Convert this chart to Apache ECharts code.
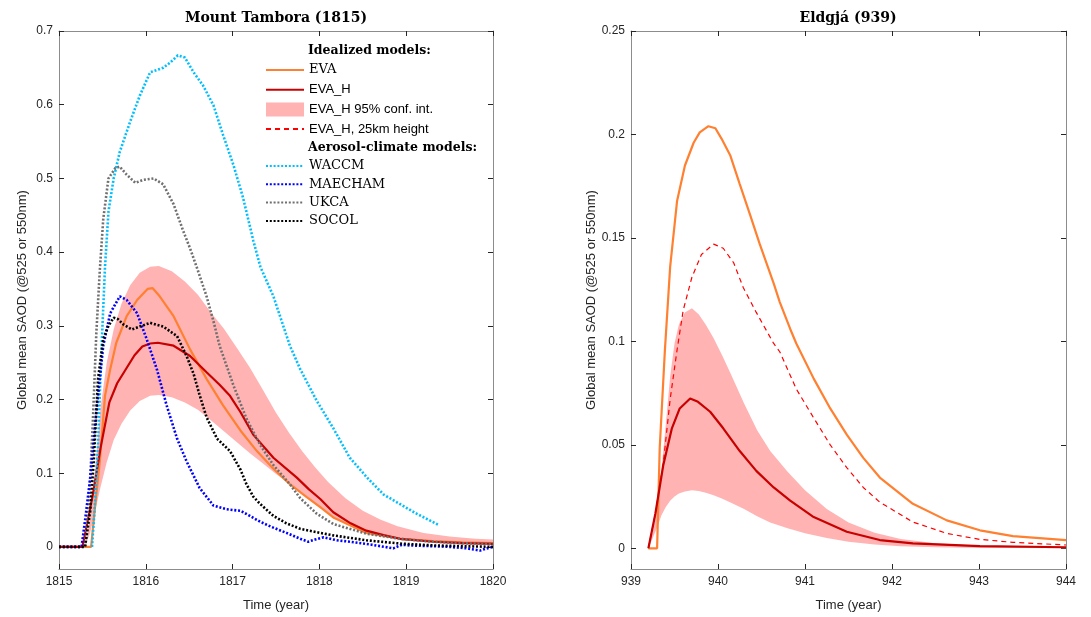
<!DOCTYPE html>
<html>
<head>
  <meta charset="utf-8">
  <title>SAOD Tambora / Eldgja</title>
  <script src="https://cdn.jsdelivr.net/npm/echarts@6/dist/echarts.min.js"></script>
  <style>
    html, body { margin: 0; padding: 0; background: #fff; }
    #chart { width: 1091px; height: 617px; }
  </style>
</head>
<body>
<div id="chart"></div>
<script>
// ---- Mount Tambora (1815) ----
var tambYTicks = [0, 0.1, 0.2, 0.3, 0.4, 0.5, 0.6, 0.7];

var evaT = [1815, 1815.37, 1815.42, 1815.47, 1815.53, 1815.59, 1815.66, 1815.78, 1815.9, 1816.02, 1816.08, 1816.16, 1816.32, 1816.51, 1816.7, 1816.89, 1817.09, 1817.28, 1817.47, 1817.66, 1817.85, 1818.01, 1818.16, 1818.36, 1818.54, 1818.74, 1818.93, 1819.31, 1819.65, 1820];
var evaV = [0, 0, 0.06, 0.116, 0.205, 0.241, 0.277, 0.313, 0.335, 0.35, 0.351, 0.34, 0.313, 0.268, 0.228, 0.192, 0.158, 0.13, 0.106, 0.085, 0.068, 0.054, 0.04, 0.029, 0.019, 0.015, 0.011, 0.008, 0.006, 0.005];

var evahT = [1815, 1815.27, 1815.33, 1815.39, 1815.48, 1815.58, 1815.67, 1815.77, 1815.87, 1815.96, 1816.05, 1816.14, 1816.32, 1816.51, 1816.7, 1816.85, 1816.97, 1817.09, 1817.24, 1817.47, 1817.74, 1817.88, 1818.01, 1818.16, 1818.36, 1818.54, 1818.74, 1818.93, 1819.31, 1819.65, 1820];
var evahV = [0, 0, 0.035, 0.071, 0.135, 0.196, 0.222, 0.241, 0.26, 0.272, 0.276, 0.277, 0.273, 0.259, 0.237, 0.22, 0.205, 0.183, 0.152, 0.121, 0.094, 0.078, 0.065, 0.047, 0.032, 0.022, 0.016, 0.011, 0.007, 0.005, 0.004];

var tambBandT = [1815.3, 1815.36, 1815.42, 1815.48, 1815.55, 1815.63, 1815.72, 1815.82, 1815.93, 1816.05, 1816.15, 1816.3, 1816.45, 1816.6, 1816.75, 1816.9, 1817.05, 1817.2, 1817.35, 1817.5, 1817.65, 1817.8, 1817.95, 1818.1, 1818.3, 1818.5, 1818.7, 1818.9, 1819.2, 1819.5, 1819.8, 1820];
var tambBandLow = [0, 0.02, 0.05, 0.082, 0.115, 0.145, 0.167, 0.185, 0.198, 0.205, 0.206, 0.203, 0.196, 0.186, 0.172, 0.157, 0.142, 0.127, 0.113, 0.099, 0.086, 0.072, 0.058, 0.045, 0.031, 0.021, 0.015, 0.011, 0.008, 0.006, 0.005, 0.004];
var tambBandHigh = [0, 0.04, 0.11, 0.19, 0.25, 0.295, 0.33, 0.355, 0.372, 0.38, 0.381, 0.374, 0.36, 0.342, 0.318, 0.296, 0.27, 0.243, 0.213, 0.182, 0.155, 0.13, 0.108, 0.088, 0.066, 0.049, 0.037, 0.028, 0.019, 0.014, 0.011, 0.01];

var waccmT = [1815.38, 1815.41, 1815.45, 1815.49, 1815.53, 1815.57, 1815.63, 1815.7, 1815.82, 1815.93, 1816.05, 1816.2, 1816.28, 1816.37, 1816.45, 1816.55, 1816.66, 1816.78, 1816.89, 1817.01, 1817.12, 1817.24, 1817.32, 1817.47, 1817.66, 1817.78, 1817.97, 1818.16, 1818.35, 1818.55, 1818.74, 1818.93, 1819.12, 1819.37];
var waccmV = [0, 0.05, 0.14, 0.27, 0.38, 0.455, 0.5, 0.536, 0.577, 0.612, 0.644, 0.65, 0.657, 0.667, 0.664, 0.644, 0.626, 0.599, 0.559, 0.518, 0.474, 0.415, 0.38, 0.34, 0.273, 0.241, 0.198, 0.161, 0.121, 0.094, 0.071, 0.058, 0.045, 0.03];

var maechamT = [1815, 1815.26, 1815.31, 1815.36, 1815.43, 1815.51, 1815.59, 1815.7, 1815.78, 1815.9, 1816.01, 1816.13, 1816.24, 1816.36, 1816.47, 1816.62, 1816.78, 1816.93, 1817.09, 1817.2, 1817.32, 1817.45, 1817.62, 1817.78, 1817.87, 1817.95, 1818.05, 1818.2, 1818.35, 1818.6, 1818.85, 1818.95, 1819.04, 1819.3, 1819.5, 1819.7, 1819.85, 1819.93, 1820];
var maechamV = [0, 0, 0.045, 0.094, 0.183, 0.273, 0.317, 0.34, 0.335, 0.317, 0.282, 0.24, 0.192, 0.147, 0.116, 0.08, 0.056, 0.051, 0.049, 0.042, 0.034, 0.027, 0.019, 0.011, 0.007, 0.01, 0.013, 0.009, 0.007, 0.003, -0.002, 0.003, 0.002, 0.001, 0, -0.002, -0.005, -0.002, 0];

var ukcaT = [1815.3, 1815.35, 1815.39, 1815.43, 1815.47, 1815.51, 1815.57, 1815.65, 1815.7, 1815.78, 1815.88, 1815.97, 1816.09, 1816.2, 1816.32, 1816.43, 1816.51, 1816.6, 1816.7, 1816.78, 1816.85, 1817.01, 1817.16, 1817.32, 1817.47, 1817.66, 1817.78, 1817.97, 1818.16, 1818.54, 1818.93, 1819.31, 1819.65, 1820];
var ukcaV = [0, 0.07, 0.17, 0.29, 0.375, 0.445, 0.5, 0.514, 0.516, 0.505, 0.494, 0.498, 0.5, 0.492, 0.465, 0.429, 0.405, 0.375, 0.34, 0.306, 0.273, 0.219, 0.174, 0.138, 0.111, 0.085, 0.066, 0.045, 0.031, 0.018, 0.011, 0.007, 0.005, 0.004];

var socolT = [1815, 1815.3, 1815.36, 1815.4, 1815.45, 1815.51, 1815.57, 1815.63, 1815.68, 1815.74, 1815.84, 1815.93, 1816.05, 1816.2, 1816.36, 1816.47, 1816.55, 1816.62, 1816.7, 1816.82, 1816.97, 1817.09, 1817.16, 1817.24, 1817.32, 1817.47, 1817.62, 1817.78, 1818.01, 1818.16, 1818.54, 1818.93, 1819.31, 1819.65, 1820];
var socolV = [0, 0, 0.049, 0.116, 0.228, 0.282, 0.3, 0.311, 0.309, 0.302, 0.295, 0.299, 0.304, 0.299, 0.286, 0.259, 0.235, 0.206, 0.176, 0.147, 0.13, 0.105, 0.085, 0.068, 0.058, 0.042, 0.032, 0.0245, 0.019, 0.0156, 0.009, 0.0045, 0.002, 0.001, 0];

// ---- Eldgja (939) ----
var eldYTicks = [0, 0.05, 0.1, 0.15, 0.2, 0.25];

var eldEvaT = [939.2, 939.3, 939.33, 939.39, 939.45, 939.53, 939.62, 939.72, 939.79, 939.89, 939.97, 940.04, 940.14, 940.25, 940.37, 940.48, 940.64, 940.71, 940.83, 940.9, 941.1, 941.29, 941.48, 941.67, 941.86, 942.24, 942.63, 943.01, 943.39, 944];
var eldEvaV = [0, 0, 0.0485, 0.096, 0.136, 0.168, 0.185, 0.196, 0.201, 0.204, 0.203, 0.198, 0.19, 0.176, 0.161, 0.147, 0.128, 0.119, 0.106, 0.099, 0.082, 0.0676, 0.0549, 0.0437, 0.0342, 0.0215, 0.0135, 0.0087, 0.0059, 0.004];

var eld25T = [939.2, 939.28, 939.37, 939.45, 939.53, 939.6, 939.7, 939.81, 939.95, 940.06, 940.18, 940.29, 940.44, 940.64, 940.71, 940.9, 941.1, 941.29, 941.48, 941.67, 941.86, 942.24, 942.63, 943.01, 943.39, 944];
var eld25V = [0, 0.0167, 0.0406, 0.072, 0.096, 0.115, 0.131, 0.142, 0.147, 0.145, 0.138, 0.126, 0.114, 0.099, 0.095, 0.077, 0.063, 0.05, 0.039, 0.0294, 0.0223, 0.0127, 0.0072, 0.0043, 0.0029, 0.0016];

var eldEvahT = [939.2, 939.28, 939.37, 939.47, 939.56, 939.68, 939.77, 939.91, 940.06, 940.25, 940.44, 940.64, 940.83, 941.1, 941.48, 941.86, 942.24, 943.01, 944];
var eldEvahV = [0, 0.0167, 0.04, 0.058, 0.0676, 0.0724, 0.0708, 0.066, 0.058, 0.047, 0.0374, 0.0294, 0.023, 0.0151, 0.008, 0.004, 0.0024, 0.0011, 0.0005];

var eldBandT = [939.2, 939.25, 939.3, 939.35, 939.4, 939.45, 939.5, 939.55, 939.62, 939.7, 939.78, 939.86, 939.95, 940.05, 940.15, 940.3, 940.45, 940.6, 940.8, 941, 941.25, 941.5, 941.8, 942.1, 942.5, 943, 943.5, 944];
var eldBandLow = [0, 0.005, 0.01, 0.016, 0.02, 0.023, 0.025, 0.0265, 0.0275, 0.028, 0.0277, 0.0268, 0.0256, 0.024, 0.022, 0.019, 0.0155, 0.0125, 0.0097, 0.0073, 0.005, 0.0032, 0.0018, 0.001, 0.0005, 0.0002, 0.0001, 0];
var eldBandHigh = [0, 0.008, 0.02, 0.038, 0.06, 0.083, 0.099, 0.108, 0.114, 0.116, 0.113, 0.108, 0.1015, 0.093, 0.084, 0.07, 0.057, 0.047, 0.037, 0.028, 0.019, 0.0125, 0.0075, 0.0045, 0.0025, 0.0012, 0.0007, 0.0004];

function pairs(t, v) {
  return t.map(function (x, i) { return [x, v[i]]; });
}

var cOrange = '#ff8030', cRed = '#c80000', cBand = '#ffb3b3', cDash = '#ff0000';
var sans = 'Liberation Sans', serif = 'DejaVu Serif';
var dots = [2, 1.8];

function lineS(name, data, color, width, type, xi) {
  return {
    name: name, type: 'line', data: data, xAxisIndex: xi, yAxisIndex: xi,
    symbol: 'none', color: color, silent: true, animation: false,
    lineStyle: { color: color, width: width, type: type, cap: 'butt' }
  };
}

// confidence band: one polygon, upper edge forward then lower edge back
function bandS(t, lo, hi, xi) {
  return {
    name: 'EVA_H 95% conf. int.', type: 'custom', xAxisIndex: xi, yAxisIndex: xi,
    color: cBand, silent: true, animation: false, clip: true,
    data: t.map(function (x, i) { return [x, lo[i], hi[i]]; }),
    encode: { x: 0, y: [1, 2] },
    renderItem: function (params, api) {
      if (params.dataIndex !== 0) return null;
      var pts = [];
      for (var i = 0; i < t.length; i++) pts.push(api.coord([t[i], hi[i]]));
      for (var j = t.length - 1; j >= 0; j--) pts.push(api.coord([t[j], lo[j]]));
      return { type: 'polygon', shape: { points: pts }, style: { fill: cBand, stroke: null } };
    }
  };
}

function xAx(grid, min, max, top) {
  return {
    type: 'value', gridIndex: grid, min: min, max: max, interval: 1,
    position: top ? 'top' : 'bottom',
    name: top ? '' : 'Time (year)', nameLocation: 'middle', nameGap: 30,
    nameTextStyle: { fontFamily: sans, fontSize: 13, color: '#262626' },
    axisLine: { show: true, onZero: false, lineStyle: { color: '#8c8c8c', width: 1 } },
    axisTick: { show: true, inside: true, length: 5, lineStyle: { color: '#262626' } },
    axisLabel: { show: !top, margin: 7, fontFamily: sans, fontSize: 12, color: '#262626',
      formatter: function (v) { return String(v); } },
    splitLine: { show: false }
  };
}
function yAx(grid, min, max, ticks, right) {
  return {
    type: 'value', gridIndex: grid, min: min, max: max,
    position: right ? 'right' : 'left',
    name: right ? '' : 'Global mean SAOD (@525 or 550nm)', nameLocation: 'middle', nameGap: 30,
    nameTextStyle: { fontFamily: sans, fontSize: 13, color: '#262626' },
    axisLine: { show: true, onZero: false, lineStyle: { color: '#8c8c8c', width: 1 } },
    axisTick: { show: true, inside: true, length: 5, customValues: ticks, lineStyle: { color: '#262626' } },
    axisLabel: { show: !right, margin: 6, customValues: ticks, fontFamily: sans, fontSize: 12, color: '#262626' },
    splitLine: { show: false }
  };
}

var series = [
  bandS(tambBandT, tambBandLow, tambBandHigh, 0),
  lineS('EVA', pairs(evaT, evaV), cOrange, 2.2, 'solid', 0),
  lineS('EVA_H', pairs(evahT, evahV), cRed, 2.2, 'solid', 0),
  lineS('WACCM', pairs(waccmT, waccmV), '#00bfff', 2.6, dots, 0),
  lineS('UKCA', pairs(ukcaT, ukcaV), '#707070', 2.6, dots, 0),
  lineS('MAECHAM', pairs(maechamT, maechamV), '#0000ff', 2.6, dots, 0),
  lineS('SOCOL', pairs(socolT, socolV), '#000000', 2.6, dots, 0),
  bandS(eldBandT, eldBandLow, eldBandHigh, 2),
  lineS('EVA_H, 25km height', pairs(eld25T, eld25V), cDash, 1.2, [5, 4], 2),
  lineS('EVA', pairs(eldEvaT, eldEvaV), cOrange, 2.2, 'solid', 2),
  lineS('EVA_H', pairs(eldEvahT, eldEvahV), cRed, 2.2, 'solid', 2)
];

var chart = echarts.init(document.getElementById('chart'));
chart.setOption({
  backgroundColor: '#fff',
  animation: false,
  grid: [
    { left: 59, right: 598, top: 31, bottom: 42 },
    { left: 631, right: 25, top: 31, bottom: 42 }
  ],
  xAxis: [
    xAx(0, 1815, 1820, false), xAx(0, 1815, 1820, true),
    xAx(1, 939, 944, false), xAx(1, 939, 944, true)
  ],
  yAxis: [
    yAx(0, -0.03, 0.7, tambYTicks, false), yAx(0, -0.03, 0.7, tambYTicks, true),
    yAx(1, -0.01, 0.25, eldYTicks, false), yAx(1, -0.01, 0.25, eldYTicks, true)
  ],
  legend: [
    {
      orient: 'vertical', left: 265, top: 63, padding: 0, itemWidth: 38, itemHeight: 14, itemGap: 5.7,
      selectedMode: false, itemStyle: { opacity: 0 },
      textStyle: { fontFamily: sans, fontSize: 13, lineHeight: 14, color: '#000' },
      data: [
        { name: 'EVA', textStyle: { fontFamily: serif, fontSize: 13 } },
        { name: 'EVA_H' },
        { name: 'EVA_H 95% conf. int.', icon: 'rect', itemStyle: { color: cBand, opacity: 1 } },
        { name: 'EVA_H, 25km height' }
      ]
    },
    {
      orient: 'vertical', left: 265, top: 159, padding: 0, itemWidth: 38, itemHeight: 14, itemGap: 4.3,
      selectedMode: false, itemStyle: { opacity: 0 },
      textStyle: { fontFamily: serif, fontSize: 13, lineHeight: 14, color: '#000' },
      data: ['WACCM', 'MAECHAM', 'UKCA', 'SOCOL']
    }
  ],
  graphic: [
    { type: 'text', x: 276, y: 18, style: { text: 'Mount Tambora (1815)', font: 'bold 14px "DejaVu Serif"', fill: '#000', align: 'center', verticalAlign: 'middle' } },
    { type: 'text', x: 848, y: 18, style: { text: 'Eldgjá (939)', font: 'bold 14px "DejaVu Serif"', fill: '#000', align: 'center', verticalAlign: 'middle' } },
    { type: 'text', x: 308, y: 51, style: { text: 'Idealized models:', font: 'bold 12.5px "DejaVu Serif"', fill: '#000', verticalAlign: 'middle' } },
    { type: 'text', x: 308, y: 148, style: { text: 'Aerosol-climate models:', font: 'bold 12.5px "DejaVu Serif"', fill: '#000', verticalAlign: 'middle' } }
  ],
  series: series
});
</script>
</body>
</html>
